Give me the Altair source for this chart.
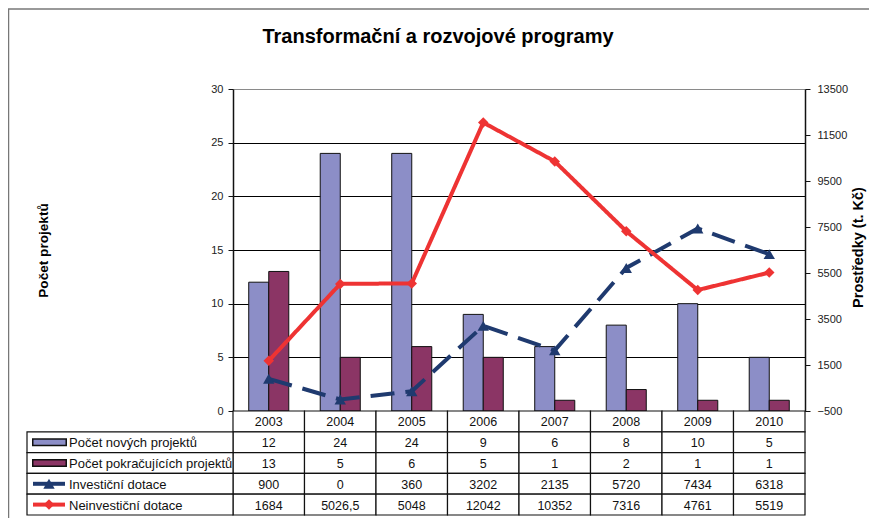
import altair as alt
import pandas as pd

# ---------------- data ----------------
years = ["2003", "2004", "2005", "2006", "2007", "2008", "2009", "2010"]
novych = [12, 24, 24, 9, 6, 8, 10, 5]
pokracujicich = [13, 5, 6, 5, 1, 2, 1, 1]
investicni = [900, 0, 360, 3202, 2135, 5720, 7434, 6318]
neinvesticni = [1684, 5026.5, 5048, 12042, 10352, 7316, 4761, 5519]

series_names = ["Počet nových projektů", "Počet pokračujících projektů",
                "Investiční dotace", "Neinvestiční dotace"]
series_colors = ["#8C8EC7", "#8B3565", "#1F3A6F", "#EE3333"]
title_text = "Transformační a rozvojové programy"
left_title = "Počet projektů"
right_title = "Prostředky (t. Kč)"

FONT = "Liberation Sans"
W, H = 572, 322
TH = 104  # data table height

# ---------------- tables ----------------
bar_rows = []
for i, y in enumerate(years):
    bar_rows.append({"year": y, "series": series_names[0], "value": novych[i]})
    bar_rows.append({"year": y, "series": series_names[1], "value": pokracujicich[i]})
bar_df = pd.DataFrame(bar_rows)

line_rows = []
for i, y in enumerate(years):
    line_rows.append({"year": y, "series": series_names[2], "value": investicni[i]})
    line_rows.append({"year": y, "series": series_names[3], "value": neinvesticni[i]})
line_df = pd.DataFrame(line_rows)


def fmt(v):
    s = ("%g" % v)
    return s.replace(".", ",")


row_keys = ["year"] + series_names
cell_rows = []
for i, y in enumerate(years):
    cell_rows.append({"year": y, "row": "year", "label": y})
    for name, arr in zip(series_names, [novych, pokracujicich, investicni, neinvesticni]):
        cell_rows.append({"year": y, "row": name, "label": fmt(arr[i])})
cell_df = pd.DataFrame(cell_rows)

label_df = pd.DataFrame({"row": series_names, "series": series_names})

# ---------------- scales ----------------
color_scale = alt.Scale(domain=series_names, range=series_colors)
x_band = alt.Scale(domain=years, paddingInner=0.44, paddingOuter=0.22)
x_table = alt.Scale(domain=years, paddingInner=0, paddingOuter=0)
y_left = alt.Scale(domain=[0, 30], nice=False, zero=False)
y_right = alt.Scale(domain=[-500, 13500], nice=False, zero=False)
y_table = alt.Scale(domain=row_keys, range=[H, H + TH], paddingInner=0, paddingOuter=0)
shape_scale = alt.Scale(domain=series_names[2:], range=["triangle-up", "diamond"])
size_scale = alt.Scale(domain=series_names[2:], range=[130, 110])
dash_scale = alt.Scale(domain=series_names[2:], range=[[24, 11], [1, 0]])

# ---------------- bars (left axis) ----------------
bars = alt.Chart(bar_df).mark_bar(stroke="#111111", strokeWidth=1).encode(
    x=alt.X("year:N", scale=x_band, axis=None, sort=years),
    xOffset=alt.XOffset("series:N", sort=series_names[:2]),
    y=alt.Y("value:Q", scale=y_left,
            axis=alt.Axis(orient="left", values=[0, 5, 10, 15, 20, 25, 30],
                          title=left_title, titleFont=FONT, titleFontSize=13.6,
                          titleFontWeight="bold", titleColor="black",
                          titleAngle=270, titleX=-190, titleY=H / 2,
                          titleAlign="center", titleBaseline="middle",
                          labelFont=FONT, labelFontSize=11, labelColor="#222222",
                          labelPadding=5, tickSize=5, tickColor="#111111",
                          domainColor="#111111", domainWidth=1.5,
                          grid=True,
                          gridColor=alt.condition("datum.value == 30",
                                                  alt.value("#8a8a8a"),
                                                  alt.value("#000000")),
                          gridWidth=1.2)),
    color=alt.Color("series:N", scale=color_scale, legend=None),
)

# ---------------- lines (right axis) ----------------
lines = alt.Chart(line_df).mark_line(strokeWidth=4, strokeCap="butt").encode(
    x=alt.X("year:N", scale=x_band, axis=None, sort=years),
    y=alt.Y("value:Q", scale=y_right,
            axis=alt.Axis(orient="right", format="d",
                          values=[-500, 1500, 3500, 5500, 7500, 9500, 11500, 13500],
                          title=right_title, titleFont=FONT, titleFontSize=14.5,
                          titleFontWeight="bold", titleColor="black",
                          titleAngle=270, titleX=53, titleY=H / 2 - 3,
                          titleAlign="center", titleBaseline="middle",
                          labelFont=FONT, labelFontSize=11, labelColor="#222222",
                          labelPadding=7, tickSize=5, tickColor="#111111",
                          domainColor="#111111", domainWidth=1.5, grid=False)),
    color=alt.Color("series:N", scale=color_scale, legend=None),
    strokeDash=alt.StrokeDash("series:N", scale=dash_scale, legend=None),
    detail="series:N",
)

points = alt.Chart(line_df).mark_point(filled=True, opacity=1).encode(
    x=alt.X("year:N", scale=x_band, axis=None, sort=years),
    y=alt.Y("value:Q", scale=y_right, axis=None),
    color=alt.Color("series:N", scale=color_scale, legend=None),
    shape=alt.Shape("series:N", scale=shape_scale, legend=None),
    size=alt.Size("series:N", scale=size_scale, legend=None),
)

# ---------------- data table ----------------
cells = alt.Chart(cell_df).mark_rect(fill="white", stroke="#111111", strokeWidth=1.2).encode(
    x=alt.X("year:N", scale=x_table, axis=None, sort=years),
    y=alt.Y("row:N", scale=y_table, axis=None, sort=row_keys),
)

cell_text = alt.Chart(cell_df).mark_text(font=FONT, fontSize=12.5, color="#111111",
                                         align="center", baseline="middle", dy=1).encode(
    x=alt.X("year:N", scale=x_table, axis=None, sort=years),
    y=alt.Y("row:N", scale=y_table, axis=None, sort=row_keys),
    text="label:N",
)

label_cells = alt.Chart(label_df).mark_rect(fill="white", stroke="#111111", strokeWidth=1.2).encode(
    x=alt.value(-206), x2=alt.value(0),
    y=alt.Y("row:N", scale=y_table, axis=None, sort=row_keys),
)

label_text = alt.Chart(label_df).mark_text(font=FONT, fontSize=13, color="#111111",
                                           align="left", baseline="middle", dy=1).encode(
    x=alt.value(-164),
    y=alt.Y("row:N", scale=y_table, axis=None, sort=row_keys),
    text="row:N",
)

bar_sym_df = label_df.iloc[:2]
line_sym_df = label_df.iloc[2:]

bar_sym_outline = alt.Chart(bar_sym_df).mark_rule(strokeWidth=8, color="#111111", strokeCap="butt").encode(
    x=alt.value(-201), x2=alt.value(-166),
    y=alt.Y("row:N", scale=y_table, axis=None, sort=row_keys, bandPosition=0.5),
)
bar_sym = alt.Chart(bar_sym_df).mark_rule(strokeWidth=5, strokeCap="butt").encode(
    x=alt.value(-199.5), x2=alt.value(-167.5),
    y=alt.Y("row:N", scale=y_table, axis=None, sort=row_keys, bandPosition=0.5),
    color=alt.Color("series:N", scale=color_scale, legend=None),
)
line_sym = alt.Chart(line_sym_df).mark_rule(strokeWidth=4, strokeCap="butt").encode(
    x=alt.value(-200), x2=alt.value(-168),
    y=alt.Y("row:N", scale=y_table, axis=None, sort=row_keys, bandPosition=0.5),
    color=alt.Color("series:N", scale=color_scale, legend=None),
)
line_sym_pt = alt.Chart(line_sym_df).mark_point(filled=True, opacity=1).encode(
    x=alt.value(-184),
    y=alt.Y("row:N", scale=y_table, axis=None, sort=row_keys, bandPosition=0.5),
    color=alt.Color("series:N", scale=color_scale, legend=None),
    shape=alt.Shape("series:N", scale=shape_scale, legend=None),
    size=alt.Size("series:N", scale=size_scale, legend=None),
)

# ---------------- title & frame ----------------
title_df = pd.DataFrame({"t": [title_text]})
title = alt.Chart(title_df).mark_text(font=FONT, fontSize=20, fontWeight="bold",
                                      color="black", align="center",
                                      baseline="middle").encode(
    x=alt.value(205), y=alt.value(-52), text="t:N")

frame_top = alt.Chart(title_df).mark_rule(color="#777777", strokeWidth=1.5).encode(
    x=alt.value(-225), x2=alt.value(W + 64), y=alt.value(-80))
frame_left = alt.Chart(title_df).mark_rule(color="#777777", strokeWidth=1.5).encode(
    x=alt.value(-224.5), y=alt.value(-80), y2=alt.value(H + 120))

chart = alt.layer(
    frame_top, frame_left, title,
    bars, lines, points,
    cells, cell_text, label_cells, label_text,
    bar_sym_outline, bar_sym, line_sym, line_sym_pt,
).resolve_scale(
    x="independent", y="independent"
).properties(
    width=W, height=H,
    autosize=alt.AutoSizeParams(type="none"),
    padding={"left": 225, "top": 81, "right": 65, "bottom": 107},
).configure_view(stroke=None).configure(background="white")

chart.save("out.html", embed_options={"renderer": "svg", "actions": False})
